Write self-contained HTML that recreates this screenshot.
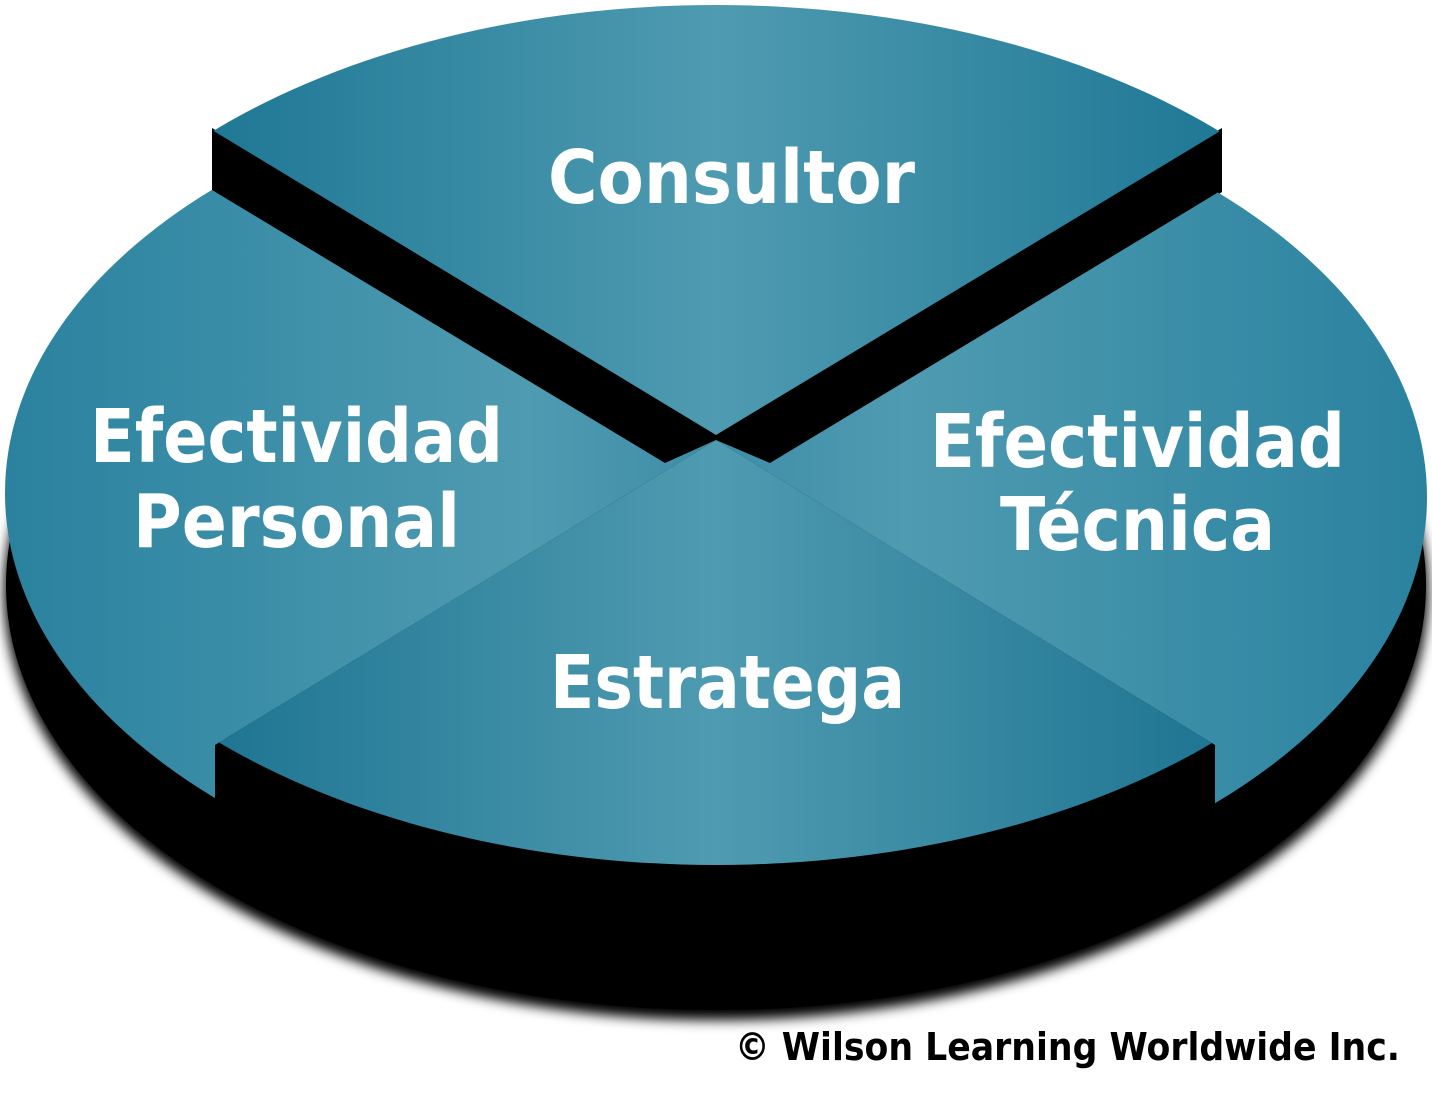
<!DOCTYPE html>
<html><head><meta charset="utf-8"><style>
html,body{margin:0;padding:0;background:#fff;}
svg{display:block;}
text{font-family:"DejaVu Sans","Liberation Sans",sans-serif;font-weight:bold;}
</style></head><body>
<svg width="1432" height="1096" viewBox="0 0 1432 1096" xmlns="http://www.w3.org/2000/svg">
<defs>
<linearGradient id="gTop" x1="212" y1="0" x2="1222" y2="0" gradientUnits="userSpaceOnUse">
<stop offset="0" stop-color="#1f7895"/><stop offset="0.5" stop-color="#4f9bb1"/><stop offset="1" stop-color="#1f7895"/></linearGradient>
<linearGradient id="gBot" x1="215" y1="0" x2="1215" y2="0" gradientUnits="userSpaceOnUse">
<stop offset="0" stop-color="#1f7592"/><stop offset="0.5" stop-color="#4f9bb1"/><stop offset="1" stop-color="#1f7592"/></linearGradient>
<linearGradient id="gL" x1="5" y1="0" x2="700" y2="0" gradientUnits="userSpaceOnUse">
<stop offset="0" stop-color="#2a829f"/><stop offset="0.75" stop-color="#4f9bb1"/><stop offset="1" stop-color="#3f8ea8"/></linearGradient>
<linearGradient id="gR" x1="730" y1="0" x2="1428" y2="0" gradientUnits="userSpaceOnUse">
<stop offset="0" stop-color="#3f8ea8"/><stop offset="0.25" stop-color="#4f9bb1"/><stop offset="1" stop-color="#2a829f"/></linearGradient>
<clipPath id="cTop"><polygon points="716,435 212,130 212,0 1222,0 1222,130"/></clipPath>
<clipPath id="cBot"><polygon points="716,440 215,745 215,900 1215,900 1215,745"/></clipPath>
<clipPath id="cL"><polygon points="0,0 212,0 212,190 665,463 716,440 215,745 215,1000 0,1000"/></clipPath>
<clipPath id="cR"><polygon points="1432,0 1222,0 1222,190 770,463 716,440 1215,745 1215,1000 1432,1000"/></clipPath>
<filter id="blur"><feGaussianBlur stdDeviation="6"/></filter>
</defs>
<ellipse cx="716" cy="592" rx="712" ry="428" fill="#000" filter="url(#blur)"/>
<ellipse cx="716" cy="585" rx="710" ry="425" fill="#000"/>
<polygon points="212,128 730,438 716,520 212,192" fill="#000"/>
<polygon points="1222,128 702,438 716,520 1222,192" fill="#000"/>
<ellipse cx="716" cy="493" rx="711" ry="430" fill="url(#gL)" clip-path="url(#cL)"/>
<ellipse cx="716" cy="497" rx="711" ry="430" fill="url(#gR)" clip-path="url(#cR)"/>
<ellipse cx="716" cy="435" rx="711" ry="430" fill="url(#gTop)" clip-path="url(#cTop)"/>
<ellipse cx="716" cy="435" rx="711" ry="430" fill="url(#gBot)" clip-path="url(#cBot)"/>
<g fill="#fff" font-size="74">
<text x="548" y="203" textLength="367" lengthAdjust="spacingAndGlyphs">Consultor</text>
<text x="90" y="462" textLength="413" lengthAdjust="spacingAndGlyphs">Efectividad</text>
<text x="133" y="547" textLength="327" lengthAdjust="spacingAndGlyphs">Personal</text>
<text x="930" y="467" textLength="415" lengthAdjust="spacingAndGlyphs">Efectividad</text>
<text x="1000" y="550" textLength="275" lengthAdjust="spacingAndGlyphs">Técnica</text>
<text x="550" y="708" textLength="355" lengthAdjust="spacingAndGlyphs">Estratega</text>
</g>
<text x="735" y="1060" font-size="38" fill="#000" textLength="665" lengthAdjust="spacingAndGlyphs">© Wilson Learning Worldwide Inc.</text>
</svg>
</body></html>
